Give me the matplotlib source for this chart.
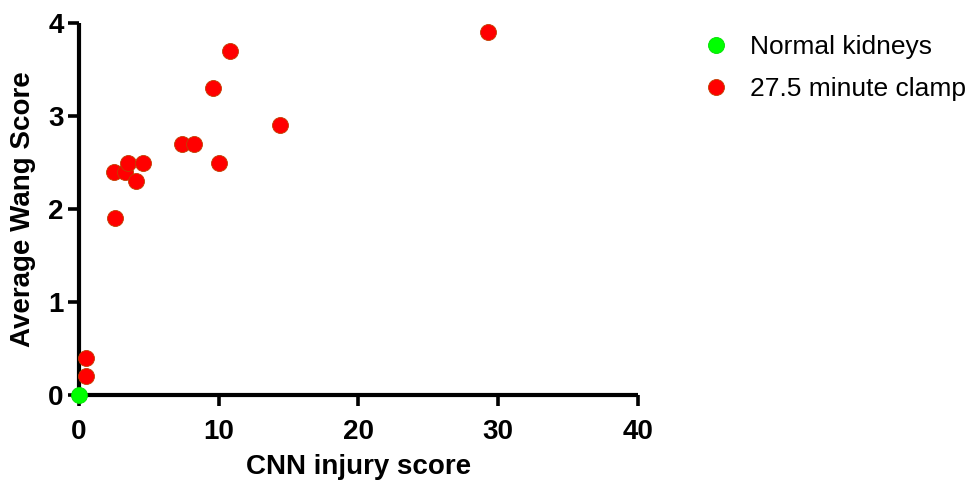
import matplotlib
matplotlib.use('Agg')
import matplotlib.pyplot as plt

# CNN injury score vs average Wang score
normal_x = [0.0]
normal_y = [0.0]

clamp_x = [0.5, 0.5, 2.5, 2.6, 3.3, 3.5, 4.1, 4.6, 7.4, 8.2, 9.6, 10.0, 10.8, 14.4, 29.3]
clamp_y = [0.4, 0.2, 2.4, 1.9, 2.4, 2.5, 2.3, 2.5, 2.7, 2.7, 3.3, 2.5, 3.7, 2.9, 3.9]

x_ticks = [0, 10, 20, 30, 40]
y_ticks = [0, 1, 2, 3, 4]

plt.rcParams['font.family'] = ['Liberation Sans', 'DejaVu Sans']

fig = plt.figure(figsize=(9.7, 4.82), dpi=100)
ax = fig.add_axes([79 / 970, 1 - 395 / 482, (638 - 79) / 970, (395 - 23) / 482])

ax.plot(clamp_x, clamp_y, 'o', color='#ff0000', markeredgecolor='#c04000',
        markeredgewidth=0.6, markersize=11.5, clip_on=False, zorder=3,
        label='27.5 minute clamp')
ax.plot(normal_x, normal_y, 'o', color='#00ff00', markeredgecolor='#00dd00',
        markeredgewidth=0.6, markersize=11.5, clip_on=False, zorder=4,
        label='Normal kidneys')

ax.set_xlim(0, 40)
ax.set_ylim(0, 4)
ax.set_xticks(x_ticks)
ax.set_yticks(y_ticks)

for side in ['top', 'right']:
    ax.spines[side].set_visible(False)
for side in ['left', 'bottom']:
    ax.spines[side].set_linewidth(3.0)
    ax.spines[side].set_capstyle('butt')

ax.tick_params(width=2.6, length=8, direction='out', labelsize=20)
ax.tick_params(axis='x', pad=9)
ax.tick_params(axis='y', pad=3)
for lbl in ax.get_xticklabels() + ax.get_yticklabels():
    lbl.set_fontweight('bold')

ax.set_xlabel('CNN injury score', fontsize=20, fontweight='bold', labelpad=7)
ax.set_ylabel('Average Wang Score', fontsize=20, fontweight='bold', labelpad=9)

handles, labels = ax.get_legend_handles_labels()
ax.legend(handles[::-1], labels[::-1], loc='upper left',
          bbox_to_anchor=(703 / 970, 1 - 35 / 482), bbox_transform=fig.transFigure,
          frameon=False, fontsize=19, handletextpad=0.78, labelspacing=0.68,
          borderaxespad=0, borderpad=0, handlelength=1.0)

fig.savefig('out.png', dpi=100)
